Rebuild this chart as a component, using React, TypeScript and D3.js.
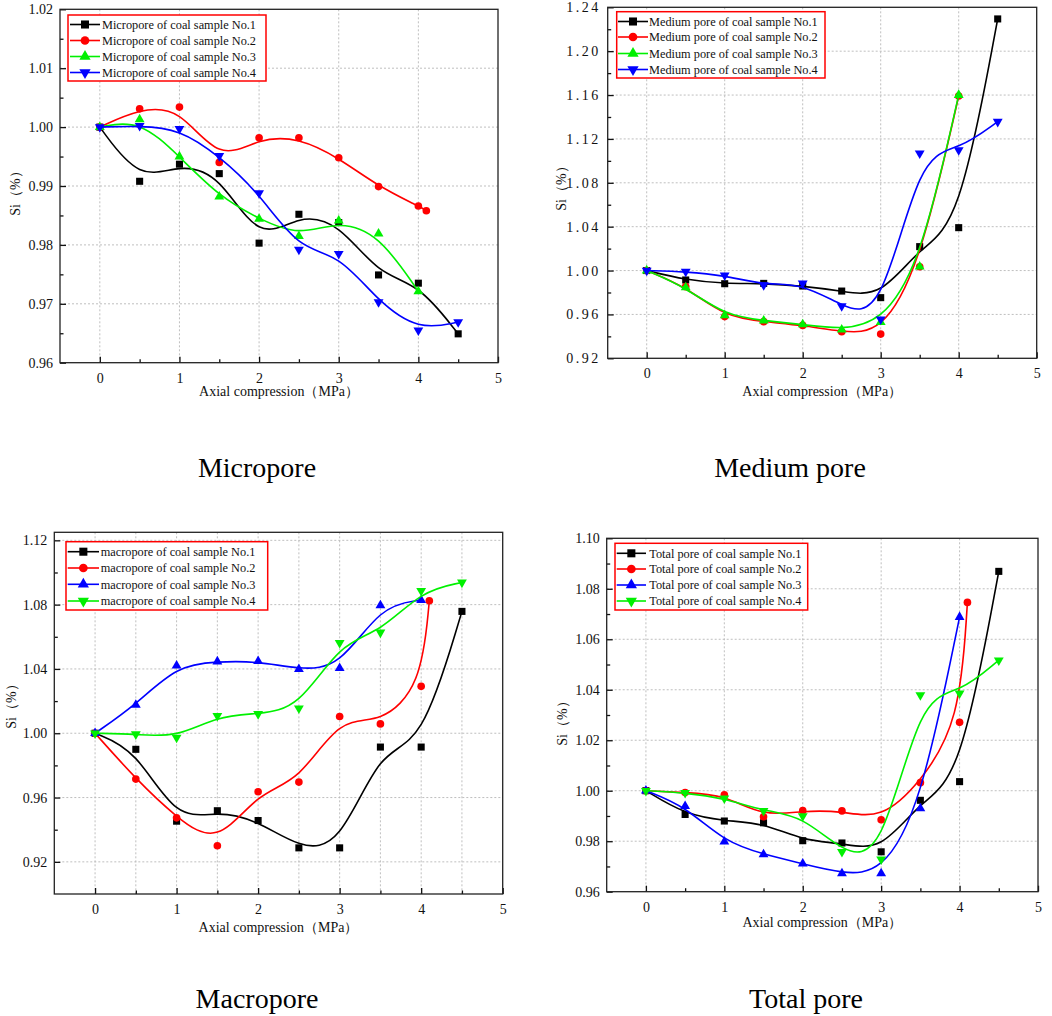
import React, { useEffect, useRef } from 'react';
import * as d3 from 'd3';

// axial compression (MPa) at each measurement
const pressure = [0, 0.5, 1, 1.5, 2, 2.5, 3, 3.5, 4, 4.5];
const pressureNo2 = [0, 0.5, 1, 1.5, 2, 2.5, 3, 3.5, 4, 4.1];
const pressureTo4 = [0, 0.5, 1, 1.5, 2, 2.5, 3, 3.5, 4];

const microNo1 = [1.0, 0.9908, 0.9937, 0.9921, 0.9803, 0.9852, 0.9838, 0.9749, 0.9735, 0.9649];
const microNo2 = [1.0, 1.0031, 1.0034, 0.994, 0.9982, 0.9982, 0.9948, 0.9899, 0.9866, 0.9858];
const microNo3 = [1.0, 1.0013, 0.995, 0.9882, 0.9844, 0.9815, 0.9841, 0.9819, 0.9721];
const microNo4 = [1.0, 1.0002, 0.9997, 0.9951, 0.9888, 0.9792, 0.9785, 0.9703, 0.9655, 0.9669];

const mediumNo1 = [1.0, 0.9914, 0.988, 0.9883, 0.9859, 0.9813, 0.9753, 1.0218, 1.0391, 1.2294];
const mediumNo2 = [1.0, 0.9853, 0.958, 0.9534, 0.95, 0.9443, 0.9421, 1.0035, 1.1591];
const mediumNo3 = [1.0, 0.9847, 0.9592, 0.9543, 0.9509, 0.9461, 0.953, 1.0035, 1.16];
const mediumNo4 = [1.0, 0.999, 0.9956, 0.9868, 0.9883, 0.9677, 0.9555, 1.1069, 1.1099, 1.1357];

const macroNo1 = [1.0, 0.99, 0.9453, 0.9518, 0.9457, 0.9287, 0.9287, 0.9914, 0.9914, 1.0758];
const macroNo2 = [1.0, 0.9715, 0.9474, 0.93, 0.9636, 0.9696, 1.0104, 1.0058, 1.0292, 1.0824];
const macroNo3 = [1.0, 1.0176, 1.0421, 1.0446, 1.0448, 1.0398, 1.0405, 1.0795, 1.0828];
const macroNo4 = [1.0, 0.9994, 0.9973, 1.0108, 1.012, 1.0155, 1.0562, 1.0627, 1.0886, 1.0938];

const totalNo1 = [1.0, 0.9906, 0.988, 0.9873, 0.9802, 0.9793, 0.9758, 0.9962, 1.0036, 1.0869];
const totalNo2 = [1.0, 0.9993, 0.9984, 0.9897, 0.9921, 0.992, 0.9885, 1.0032, 1.0271, 1.0746];
const totalNo3 = [1.0, 0.9939, 0.9798, 0.9748, 0.9711, 0.9672, 0.9672, 0.993, 1.0688];
const totalNo4 = [1.0, 0.9992, 0.997, 0.992, 0.99, 0.9758, 0.9728, 1.0379, 1.0386, 1.0517];

const xTickLabels = [0, 1, 2, 3, 4, 5];
const xMinorTicks = [0.5, 1.5, 2.5, 3.5, 4.5];

const FONT = '"Liberation Serif", "Times New Roman", serif';
const BLACK = '#000000';
const RED = '#ff0000';
const GREEN = '#00f000';
const BLUE = '#0000ff';

type Series = { name: string; x: number[]; y: number[]; color: string; marker: string };

interface PanelConfig {
  title: string;
  titleX: number;
  titleY: number;
  left: number;
  right: number;
  top: number;
  bottom: number;
  yDomain: [number, number];
  yTicks: number[];
  yMinor: number[];
  xGrid: number[];
  yTitleX: number;
  yTitleY: number;
  xTitleY: number;
  tickSpacing: number;
  legend: { x: number; y: number; w: number; h: number; rowY: number[]; lineX: [number, number]; textX: number };
  series: Series[];
}

const seq = (a: number, b: number, s: number) => d3.range(a, b + s / 2, s).map((v) => +v.toFixed(4));

const panels: PanelConfig[] = [
  {
    title: 'Micropore',
    titleX: 257, titleY: 477,
    left: 60, right: 498, top: 9.3, bottom: 362.7,
    yDomain: [0.96, 1.02],
    yTicks: seq(0.96, 1.02, 0.01),
    yMinor: seq(0.965, 1.015, 0.01),
    xGrid: [0, 1, 2, 3, 4],
    yTitleX: 15, yTitleY: 190, xTitleY: 391, tickSpacing: 0,
    legend: { x: 68, y: 15, w: 198, h: 66, rowY: [24.5, 40.5, 56.5, 72.5], lineX: [70, 100], textX: 102 },
    series: [
      { name: 'Micropore of coal sample No.1', x: pressure, y: microNo1, color: BLACK, marker: 'square' },
      { name: 'Micropore of coal sample No.2', x: pressureNo2, y: microNo2, color: RED, marker: 'circle' },
      { name: 'Micropore of coal sample No.3', x: pressureTo4, y: microNo3, color: GREEN, marker: 'up' },
      { name: 'Micropore of coal sample No.4', x: pressure, y: microNo4, color: BLUE, marker: 'down' },
    ],
  },
  {
    title: 'Medium pore',
    titleX: 790, titleY: 477,
    left: 607.7, right: 1036.7, top: 7.3, bottom: 358.3,
    yDomain: [0.92, 1.24],
    yTicks: seq(0.92, 1.24, 0.04),
    yMinor: seq(0.94, 1.22, 0.04),
    xGrid: [0, 1, 2, 3, 4],
    yTitleX: 561, yTitleY: 185, xTitleY: 391, tickSpacing: 2.5,
    legend: { x: 616.7, y: 11.7, w: 208.3, h: 66.3, rowY: [21.5, 37, 53.5, 69.5], lineX: [618, 648], textX: 649 },
    series: [
      { name: 'Medium pore of coal sample No.1', x: pressure, y: mediumNo1, color: BLACK, marker: 'square' },
      { name: 'Medium pore of coal sample No.2', x: pressureTo4, y: mediumNo2, color: RED, marker: 'circle' },
      { name: 'Medium pore of coal sample No.3', x: pressureTo4, y: mediumNo3, color: GREEN, marker: 'up' },
      { name: 'Medium pore of coal sample No.4', x: pressure, y: mediumNo4, color: BLUE, marker: 'down' },
    ],
  },
  {
    title: 'Macropore',
    titleX: 257, titleY: 1008,
    left: 54.3, right: 502.7, top: 532.3, bottom: 894,
    yDomain: [0.9, 1.125],
    yTicks: seq(0.92, 1.12, 0.04),
    yMinor: seq(0.94, 1.1, 0.04),
    xGrid: [0, 0.5, 1, 1.5, 2, 2.5, 3, 3.5, 4, 4.5],
    yTitleX: 11, yTitleY: 703, xTitleY: 927, tickSpacing: 0,
    legend: { x: 66, y: 541.7, w: 201.7, h: 68.3, rowY: [551.7, 568, 584.3, 601], lineX: [67.7, 99], textX: 100.7 },
    series: [
      { name: 'macropore of coal sample No.1', x: pressure, y: macroNo1, color: BLACK, marker: 'square' },
      { name: 'macropore of coal sample No.2', x: pressureNo2, y: macroNo2, color: RED, marker: 'circle' },
      { name: 'macropore of coal sample No.3', x: pressureTo4, y: macroNo3, color: BLUE, marker: 'up' },
      { name: 'macropore of coal sample No.4', x: pressure, y: macroNo4, color: GREEN, marker: 'down' },
    ],
  },
  {
    title: 'Total pore',
    titleX: 806, titleY: 1008,
    left: 606.7, right: 1038, top: 538.3, bottom: 891.7,
    yDomain: [0.96, 1.1],
    yTicks: seq(0.96, 1.1, 0.02),
    yMinor: seq(0.97, 1.09, 0.02),
    xGrid: [0, 1, 2, 3, 4],
    yTitleX: 562, yTitleY: 720, xTitleY: 922, tickSpacing: 0,
    legend: { x: 615, y: 543.3, w: 192.7, h: 66.7, rowY: [553.3, 569, 585, 601], lineX: [616.7, 646], textX: 649.3 },
    series: [
      { name: 'Total pore of coal sample No.1', x: pressure, y: totalNo1, color: BLACK, marker: 'square' },
      { name: 'Total pore of coal sample No.2', x: pressureNo2, y: totalNo2, color: RED, marker: 'circle' },
      { name: 'Total pore of coal sample No.3', x: pressureTo4, y: totalNo3, color: BLUE, marker: 'up' },
      { name: 'Total pore of coal sample No.4', x: pressure, y: totalNo4, color: GREEN, marker: 'down' },
    ],
  },
];

const symbolPath = (marker: string, scale = 1) => {
  const gen = d3.symbol();
  if (marker === 'square') return gen.type(d3.symbolSquare).size(50 * scale)();
  if (marker === 'circle') return gen.type(d3.symbolCircle).size(46 * scale)();
  return gen.type(d3.symbolTriangle).size(42 * scale)();
};

const Panel: React.FC<{ cfg: PanelConfig }> = ({ cfg }) => {
  const ref = useRef<SVGGElement>(null);

  useEffect(() => {
    if (!ref.current) return;
    const g = d3.select(ref.current);
    g.selectAll('*').remove();

    const x = d3.scaleLinear().domain([-0.5, 5]).range([cfg.left, cfg.right]);
    const y = d3.scaleLinear().domain(cfg.yDomain).range([cfg.bottom, cfg.top]);

    // dotted grid
    const grid = g.append('g').attr('stroke', '#b8b8b8').attr('stroke-width', 0.9).attr('stroke-dasharray', '2,2');
    grid.selectAll('line.gx').data(cfg.xGrid).join('line')
      .attr('class', 'gx')
      .attr('x1', (d) => x(d)).attr('x2', (d) => x(d))
      .attr('y1', cfg.top).attr('y2', cfg.bottom);
    grid.selectAll('line.gy').data(cfg.yTicks.filter((d) => y(d) > cfg.top + 1 && y(d) < cfg.bottom - 1)).join('line')
      .attr('class', 'gy')
      .attr('x1', cfg.left).attr('x2', cfg.right)
      .attr('y1', (d) => y(d)).attr('y2', (d) => y(d));

    // axes with inward ticks
    const xAxis = g.append('g').attr('transform', `translate(0,${cfg.bottom})`)
      .call(d3.axisBottom(x).tickValues(xTickLabels).tickSizeInner(-6).tickSizeOuter(0).tickPadding(10).tickFormat(d3.format('d')));
    const xMinor = g.append('g').attr('transform', `translate(0,${cfg.bottom})`)
      .call(d3.axisBottom(x).tickValues(xMinorTicks).tickSizeInner(-3.5).tickSizeOuter(0).tickFormat(() => ''));
    const yAxis = g.append('g').attr('transform', `translate(${cfg.left},0)`)
      .call(d3.axisLeft(y).tickValues(cfg.yTicks).tickSizeInner(-6).tickSizeOuter(0).tickPadding(7).tickFormat(d3.format('.2f')));
    const yMinor = g.append('g').attr('transform', `translate(${cfg.left},0)`)
      .call(d3.axisLeft(y).tickValues(cfg.yMinor).tickSizeInner(-3.5).tickSizeOuter(0).tickFormat(() => ''));

    [xAxis, xMinor, yAxis, yMinor].forEach((a) => {
      a.select('.domain').remove();
      a.selectAll('line').attr('stroke', '#111').attr('stroke-width', 1.3);
      a.selectAll('text').attr('font-family', FONT).attr('font-size', 14).attr('fill', '#111');
    });
    yAxis.selectAll('text').attr('letter-spacing', cfg.tickSpacing);

    g.append('rect')
      .attr('x', cfg.left).attr('y', cfg.top)
      .attr('width', cfg.right - cfg.left).attr('height', cfg.bottom - cfg.top)
      .attr('fill', 'none').attr('stroke', '#222').attr('stroke-width', 1.3);

    // fitted curves and points
    const line = d3.line<[number, number]>()
      .x((d) => x(d[0]))
      .y((d) => y(d[1]))
      .curve(d3.curveBasis);

    cfg.series.forEach((s) => {
      const pts = s.x.map((v, i) => [v, s.y[i]] as [number, number]);
      g.append('path').attr('d', line(pts)).attr('fill', 'none').attr('stroke', s.color).attr('stroke-width', 1.6);
      g.append('g').selectAll('path').data(pts).join('path')
        .attr('d', symbolPath(s.marker))
        .attr('transform', (d) => `translate(${x(d[0])},${y(d[1])})${s.marker === 'down' ? ' rotate(180)' : ''}`)
        .attr('fill', s.color);
    });

    // legend
    const L = cfg.legend;
    const lg = g.append('g');
    lg.append('rect').attr('x', L.x).attr('y', L.y).attr('width', L.w).attr('height', L.h)
      .attr('fill', 'white').attr('stroke', RED).attr('stroke-width', 1.5);
    cfg.series.forEach((s, i) => {
      const ry = L.rowY[i];
      lg.append('line').attr('x1', L.lineX[0]).attr('x2', L.lineX[1]).attr('y1', ry).attr('y2', ry)
        .attr('stroke', s.color).attr('stroke-width', 1.6);
      lg.append('path').attr('d', symbolPath(s.marker, 1.3))
        .attr('transform', `translate(${(L.lineX[0] + L.lineX[1]) / 2},${ry})${s.marker === 'down' ? ' rotate(180)' : ''}`)
        .attr('fill', s.color);
      lg.append('text').attr('x', L.textX).attr('y', ry).attr('dy', '0.35em')
        .attr('font-family', FONT).attr('font-size', 12.3).attr('fill', '#111')
        .text(s.name);
    });

    // axis titles and panel caption
    g.append('text').attr('x', (cfg.left + cfg.right) / 2).attr('y', cfg.xTitleY).attr('dy', '0.35em')
      .attr('text-anchor', 'middle').attr('font-family', FONT).attr('font-size', 14).attr('fill', '#111')
      .text('Axial compression（MPa）');
    g.append('text').attr('transform', `translate(${cfg.yTitleX},${cfg.yTitleY}) rotate(-90)`).attr('dy', '0.35em')
      .attr('text-anchor', 'middle').attr('font-family', FONT).attr('font-size', 14).attr('fill', '#111')
      .text('Si（%）');
    g.append('text').attr('x', cfg.titleX).attr('y', cfg.titleY)
      .attr('text-anchor', 'middle').attr('font-family', FONT).attr('font-size', 28).attr('fill', '#000')
      .text(cfg.title);
  }, [cfg]);

  return <g ref={ref} />;
};

export default function App() {
  return (
    <svg
      width={1052}
      height={1016}
      style={{ position: 'absolute', left: 0, top: 0, background: '#ffffff' }}
      role="img"
      aria-label="Si versus axial compression for micropore, medium pore, macropore and total pore"
    >
      <rect x={0} y={0} width={1052} height={1016} fill="#ffffff" />
      {panels.map((p) => (
        <Panel key={p.title} cfg={p} />
      ))}
    </svg>
  );
}
